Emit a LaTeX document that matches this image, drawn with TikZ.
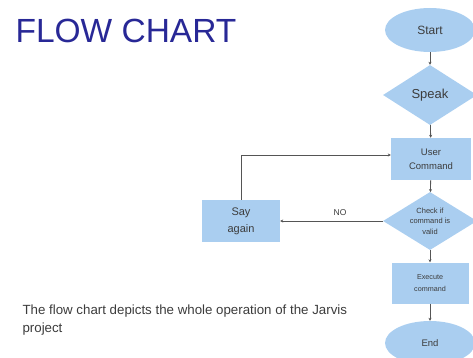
\documentclass[tikz,border=0pt]{standalone}
\usepackage{fontspec}
\setmainfont{Liberation Sans}
\usetikzlibrary{shapes.geometric,arrows.meta}
\definecolor{boxfill}{RGB}{170,206,240}
\definecolor{txt}{RGB}{60,60,60}
\definecolor{ln}{RGB}{85,85,85}
\definecolor{titleblue}{RGB}{40,40,150}
\tikzset{
  shp/.style={fill=boxfill, draw=none, text=txt, align=center, inner sep=0pt},
  oval/.style={shp, ellipse, minimum width=90pt, minimum height=44pt},
  dia/.style={shp, diamond, minimum width=94pt, minimum height=60pt, aspect=1.57},
  box/.style={shp, rectangle, minimum width=80pt, minimum height=42pt},
  conn/.style={draw=ln, line width=0.8pt, -{Stealth[length=3pt,width=3pt]}},
}
\begin{document}
\begin{tikzpicture}[x=1pt,y=-1pt]
\useasboundingbox (0,0) rectangle (473,358);
\node[text=titleblue, font=\fontsize{33.5}{36}\selectfont, anchor=west] (title) at (12,31) {FLOW CHART};
\node[oval, font=\fontsize{12}{14}\selectfont] (start) at (430,30) {Start};
\node[dia, font=\fontsize{13}{15}\selectfont] (speak) at (430,95) {Speak};
\node[box, font=\fontsize{9.5}{14}\selectfont] (user) at (431,159) {User\\Command};
\node[dia, minimum height=58pt, font=\fontsize{7.5}{10.5}\selectfont] (check) at (430,221) {Check if\\command is\\valid};
\node[box, minimum width=78pt, minimum height=42pt, font=\fontsize{11}{17}\selectfont] (say) at (241,221) {Say\\again};
\node[box, minimum width=77pt, minimum height=41pt, font=\fontsize{7.2}{12}\selectfont] (exec) at (430,283) {Execute\\command};
\node[oval, font=\fontsize{9.5}{11}\selectfont] (end) at (430,343) {End};
\node[text=txt, font=\fontsize{8.5}{10}\selectfont] (no) at (340,213) {NO};
\node[text=txt, font=\fontsize{13.3}{18}\selectfont, align=left, anchor=north west] (desc) at (19,301) {The flow chart depicts the whole operation of the Jarvis\\project};
\draw[conn] (start) -- (speak);
\draw[conn] (speak) -- (user);
\draw[conn] (user) -- (check);
\draw[conn] (check.west) -- (say.east |- check.west);
\draw[conn] (say.north) |- ([yshift=4pt]user.west);
\draw[conn] (check) -- (exec);
\draw[conn] (exec) -- (end);
\end{tikzpicture}
\end{document}
